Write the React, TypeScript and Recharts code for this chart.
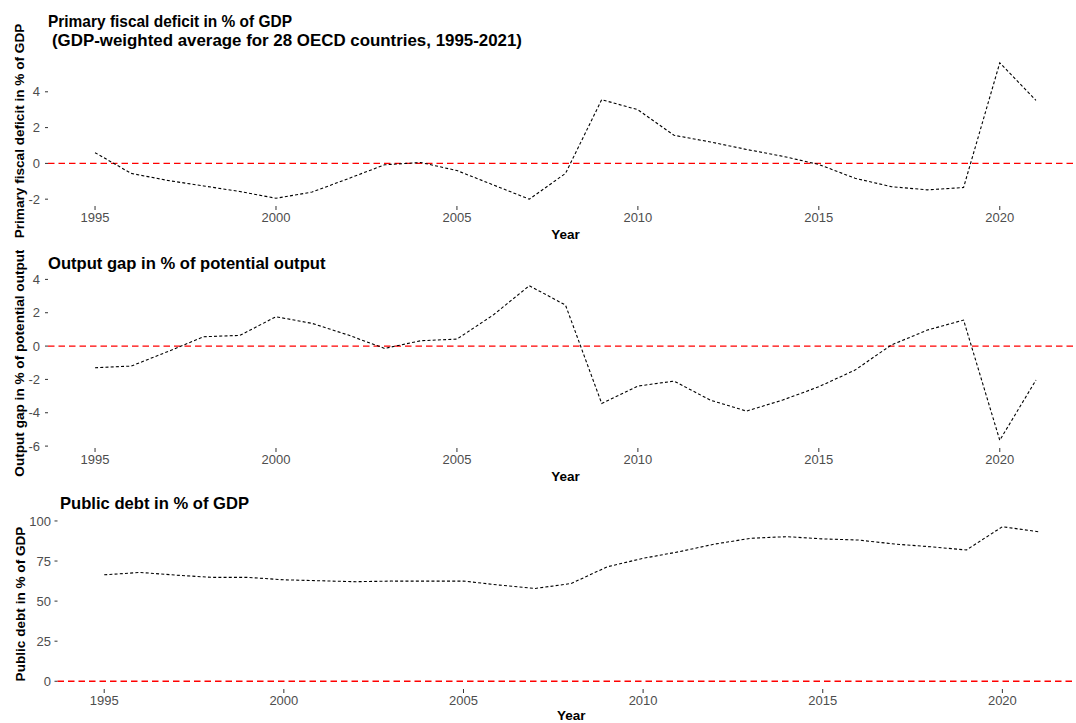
import React from 'react';
import { LineChart, Line, XAxis, YAxis, ReferenceLine } from 'recharts';

const years = [1995, 1996, 1997, 1998, 1999, 2000, 2001, 2002, 2003, 2004, 2005, 2006, 2007, 2008, 2009, 2010, 2011, 2012, 2013, 2014, 2015, 2016, 2017, 2018, 2019, 2020, 2021];

const deficit = [0.6, -0.56, -0.95, -1.26, -1.57, -1.95, -1.6, -0.85, -0.08, 0.05, -0.4, -1.2, -2.0, -0.56, 3.56, 3.0, 1.57, 1.2, 0.78, 0.4, -0.06, -0.83, -1.3, -1.48, -1.35, 5.62, 3.52];

const outputGap = [-1.3, -1.2, -0.34, 0.56, 0.64, 1.76, 1.36, 0.66, -0.14, 0.32, 0.42, 1.86, 3.62, 2.46, -3.44, -2.4, -2.1, -3.24, -3.9, -3.24, -2.44, -1.44, 0.06, 0.96, 1.56, -5.65, -2.04];

const debt = [66.4, 67.9, 66.2, 64.8, 64.8, 63.3, 62.7, 62.1, 62.5, 62.5, 62.5, 60.0, 57.9, 61.0, 71.4, 76.7, 80.8, 85.6, 89.2, 90.2, 88.8, 88.1, 85.6, 83.9, 81.9, 96.4, 93.3];

const xTicks = [1995, 2000, 2005, 2010, 2015, 2020];
const deficitTicks = [-2, 0, 2, 4];
const gapTicks = [-6, -4, -2, 0, 2, 4];
const debtTicks = [0, 25, 50, 75, 100];

const FONT = "'Liberation Sans', Arial, Helvetica, sans-serif";

// ggplot-like 5% expansion
const expand = (lo: number, hi: number): [number, number] => {
  const r = hi - lo;
  return [lo - 0.05 * r, hi + 0.05 * r];
};

const xDomain = expand(years[0], years[years.length - 1]);

type PanelProps = {
  values: number[];
  ticks: number[];
  yTitle: string;
  top: number;
  width: number;
  height: number;
  marginTop: number;
  yAxisWidth: number;
  tickMarginY: number;
  yearOffset: number;
  titleOffset: number;
};

function Panel({ values, ticks, yTitle, top, width, height, marginTop, yAxisWidth, tickMarginY, yearOffset, titleOffset }: PanelProps) {
  const data = years.map((y, i) => ({ year: y, v: values[i] }));
  const yDomain = expand(Math.min(0, ...values), Math.max(0, ...values));
  return (
    <div style={{ position: 'absolute', left: 0, top, width, height }}>
      <LineChart width={width} height={height} data={data} margin={{ top: marginTop, right: 0, bottom: 0, left: 0 }}>
        <XAxis
          dataKey="year"
          type="number"
          domain={xDomain}
          ticks={xTicks}
          interval={0}
          allowDataOverflow
          height={44}
          axisLine={false}
          tickSize={4}
          tickMargin={3}
          tickLine={{ stroke: '#333333', strokeWidth: 1 }}
          tick={{ fill: '#4D4D4D', fontSize: 13, fontFamily: FONT }}
          label={{ value: 'Year', position: 'insideBottom', offset: yearOffset, style: { fontWeight: 'bold', fontSize: 13.5, fill: '#000', fontFamily: FONT } }}
        />
        <YAxis
          type="number"
          domain={yDomain}
          ticks={ticks}
          interval={0}
          allowDataOverflow
          width={yAxisWidth}
          axisLine={false}
          tickSize={3}
          tickMargin={tickMarginY}
          tickLine={{ stroke: '#333333', strokeWidth: 1 }}
          tick={{ fill: '#4D4D4D', fontSize: 13, fontFamily: FONT }}
          label={{ value: yTitle, angle: -90, position: 'insideLeft', offset: titleOffset, style: { textAnchor: 'middle', fontWeight: 'bold', fontSize: 13.6, fill: '#000', fontFamily: FONT } }}
        />
        <ReferenceLine y={0} stroke="#FF0000" strokeWidth={1.3} strokeDasharray="6.5 4" />
        <Line type="linear" dataKey="v" stroke="#000000" strokeWidth={1.1} strokeDasharray="3 2.2" dot={false} activeDot={false} isAnimationActive={false} />
      </LineChart>
    </div>
  );
}

export default function App() {
  const titleStyle: React.CSSProperties = { fontFamily: FONT, fontWeight: 'bold', fontSize: 16.6, fill: '#000' };
  return (
    <div style={{ position: 'absolute', left: 0, top: 0, width: 1076, height: 723, overflow: 'hidden', background: '#fff' }}>
      <Panel values={deficit} ticks={deficitTicks} yTitle="Primary fiscal deficit in % of GDP" top={0} width={1083} height={250} marginTop={56} yAxisWidth={48} tickMarginY={5} yearOffset={11} titleOffset={19.5} />
      <Panel values={outputGap} ticks={gapTicks} yTitle="Output gap in % of potential output" top={250} width={1083} height={242} marginTop={28} yAxisWidth={48} tickMarginY={5} yearOffset={11} titleOffset={19.5} />
      <Panel values={debt} ticks={debtTicks} yTitle="Public debt in % of GDP" top={492} width={1085} height={241} marginTop={27} yAxisWidth={57.5} tickMarginY={3.5} yearOffset={13.5} titleOffset={20} />
      <svg width={1076} height={723} style={{ position: 'absolute', left: 0, top: 0, pointerEvents: 'none' }}>
        <text x={48} y={27} textLength={244} lengthAdjust="spacingAndGlyphs" style={titleStyle}>Primary fiscal deficit in % of GDP</text>
        <text x={52} y={46} textLength={470} lengthAdjust="spacingAndGlyphs" style={titleStyle}>(GDP-weighted average for 28 OECD countries, 1995-2021)</text>
        <text x={48} y={268.5} style={titleStyle}>Output gap in % of potential output</text>
        <text x={60} y={508.5} style={titleStyle}>Public debt in % of GDP</text>
      </svg>
    </div>
  );
}
